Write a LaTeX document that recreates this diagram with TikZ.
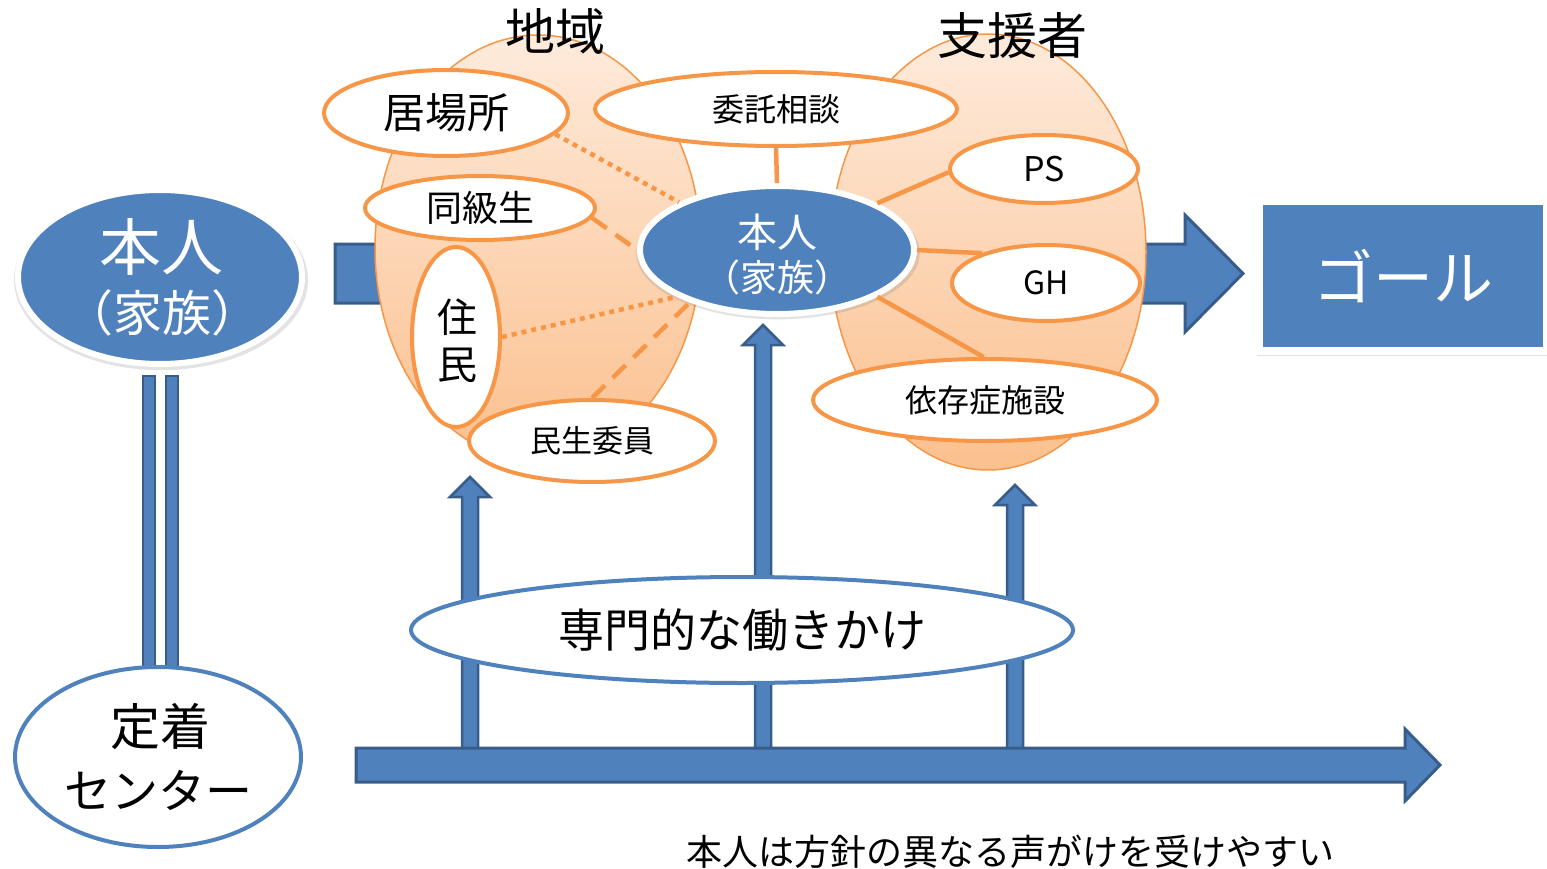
\documentclass[tikz,border=0pt]{standalone}
\usepackage{fontspec}
\setmainfont{Noto Sans CJK JP}
\usetikzlibrary{shapes.geometric,shadows}
\definecolor{bl}{HTML}{4F81BD}
\definecolor{bld}{HTML}{385D8A}
\definecolor{orng}{HTML}{F79646}
\definecolor{ortop}{HTML}{FEEBDC}
\definecolor{orbot}{HTML}{FBC08E}
\newcommand{\fs}[1]{\fontsize{#1}{#1}\selectfont}
\begin{document}
\begin{tikzpicture}[x=1pt,y=-1pt,
  oell/.style={ellipse, draw=orng, line width=4pt, fill=white, inner sep=0pt, outer sep=2pt},
  bigoval/.style={ellipse, draw=orng, line width=1.5pt, top color=ortop, bottom color=orbot, inner sep=0pt, outer sep=0pt},
  bell/.style={ellipse, draw=bl, line width=4pt, fill=white, inner sep=0pt, outer sep=2pt},
  person/.style={ellipse, draw=white, line width=6pt, fill=bl, inner sep=0pt, outer sep=3pt,
     drop shadow={opacity=0.22, shadow scale=1.035, shadow xshift=1pt, shadow yshift=-3pt}},
  blockarrow/.style={fill=bl, draw=bld, line width=3pt, line join=miter},
  thinarrow/.style={fill=bl, draw=bld, line width=2.5pt, line join=miter},
  conn/.style={draw=orng, line width=4.5pt},
  dotconn/.style={conn, dash pattern=on 5pt off 5pt},
  dashconn/.style={conn, dash pattern=on 18pt off 11pt},
  txt/.style={inner sep=0pt, text=black},
  wtxt/.style={inner sep=0pt, text=white}]
\useasboundingbox (0,0) rectangle (1547,869);

% big horizontal arrow behind
\draw[blockarrow] (335,244) -- (1185,244) -- (1185,215) -- (1243,273.5) -- (1185,332) -- (1185,303) -- (335,303) -- cycle;

% big ovals
\node[bigoval, minimum width=326pt, minimum height=426pt] (chiiki) at (538,248) {};
\node[bigoval, minimum width=316pt, minimum height=436pt] (shiensha) at (988,252) {};
\node[txt, font=\fs{50}] (t1) at (555,31) {地域};
\node[txt, font=\fs{50}] (t2) at (1012,36) {支援者};

% orange ellipses
\node[oell, minimum width=244pt, minimum height=86pt, font=\fs{42}] (ibasho) at (446,113) {居場所};
\node[oell, minimum width=362pt, minimum height=74pt, font=\fs{32}] (itaku) at (776,109) {委託相談};
\node[oell, minimum width=230pt, minimum height=64pt, font=\fs{36}] (doukyu) at (480,208) {同級生};
\node[oell, minimum width=88pt, minimum height=180pt] (jumin) at (456,337) {};
\node[txt, font=\fs{40}] (j1) at (457,317) {住};
\node[txt, font=\fs{40}] (j2) at (457,365) {民};
\node[oell, minimum width=246pt, minimum height=82pt, font=\fs{31}] (minsei) at (592,441) {民生委員};
\node[oell, minimum width=188pt, minimum height=68pt, font=\fs{34}] (ps) at (1044,169) {PS};
\node[oell, minimum width=188pt, minimum height=76pt, font=\fs{32}] (gh) at (1046,283) {GH};
\node[oell, minimum width=344pt, minimum height=82pt, font=\fs{32}] (izon) at (985,400) {依存症施設};

% vertical thin arrows
\draw[thinarrow] (462,765) -- (462,497) -- (450,497) -- (470,477) -- (490,497) -- (478,497) -- (478,765) -- cycle;
\draw[thinarrow] (755,765) -- (755,345) -- (743,345) -- (763,325) -- (783,345) -- (771,345) -- (771,765) -- cycle;
\draw[thinarrow] (1007,765) -- (1007,505) -- (995,505) -- (1015,485) -- (1035,505) -- (1023,505) -- (1023,765) -- cycle;

% centre person
\node[person, minimum width=274pt, minimum height=128pt] (honnin) at (777,250) {};
\node[wtxt, font=\fs{40}] (h1) at (777,232) {本人};
\node[wtxt, font=\fs{37}] (h2) at (777,277) {（家族）};

% connectors
\draw[dotconn] (ibasho.-11) -- (honnin.154);
\draw[dashconn] (doukyu.-5) -- (honnin.180);
\draw[dotconn] (jumin.0) -- (honnin.205);
\draw[dashconn] (minsei.90) -- (honnin.211);
\draw[conn] (itaku.south) -- (honnin.north);
\draw[conn] (honnin.25) -- (ps.182);
\draw[conn] (honnin.0) -- (gh.155);
\draw[conn] (honnin.-25) -- (izon.92);

% left side
\draw[thinarrow, line width=2pt] (143,376) rectangle (155,668);
\draw[thinarrow, line width=2pt] (166,376) rectangle (178,668);
\node[person, minimum width=284pt, minimum height=174pt] (lhonnin) at (160,277) {};
\node[wtxt, font=\fs{62}] (lh1) at (161,247) {本人};
\node[wtxt, font=\fs{49}] (lh2) at (162,313) {（家族）};
\node[bell, minimum width=286pt, minimum height=180pt] (teichaku) at (158,757) {};
\node[txt, font=\fs{50}] (tc1) at (160,727) {定着};
\node[txt, font=\fs{47}] (tc2) at (158,790) {センター};

% bottom arrow
\draw[blockarrow] (356,748) -- (1405,748) -- (1405,729) -- (1440,765) -- (1405,801) -- (1405,782) -- (356,782) -- cycle;

\node[bell, minimum width=662pt, minimum height=106pt, font=\fs{46}] (senmon) at (742,630) {専門的な働きかけ};

% goal
\node[draw=white, line width=8pt, fill=bl, minimum width=288pt, minimum height=150pt, inner sep=0pt,
  drop shadow={opacity=0.22, shadow scale=1.02, shadow xshift=1pt, shadow yshift=-3pt}, text=white, font=\fs{60}] (goal) at (1403,276) {ゴール};

\node[txt, font=\fs{36}] (note) at (1010,852) {本人は方針の異なる声がけを受けやすい};
\end{tikzpicture}
\end{document}
